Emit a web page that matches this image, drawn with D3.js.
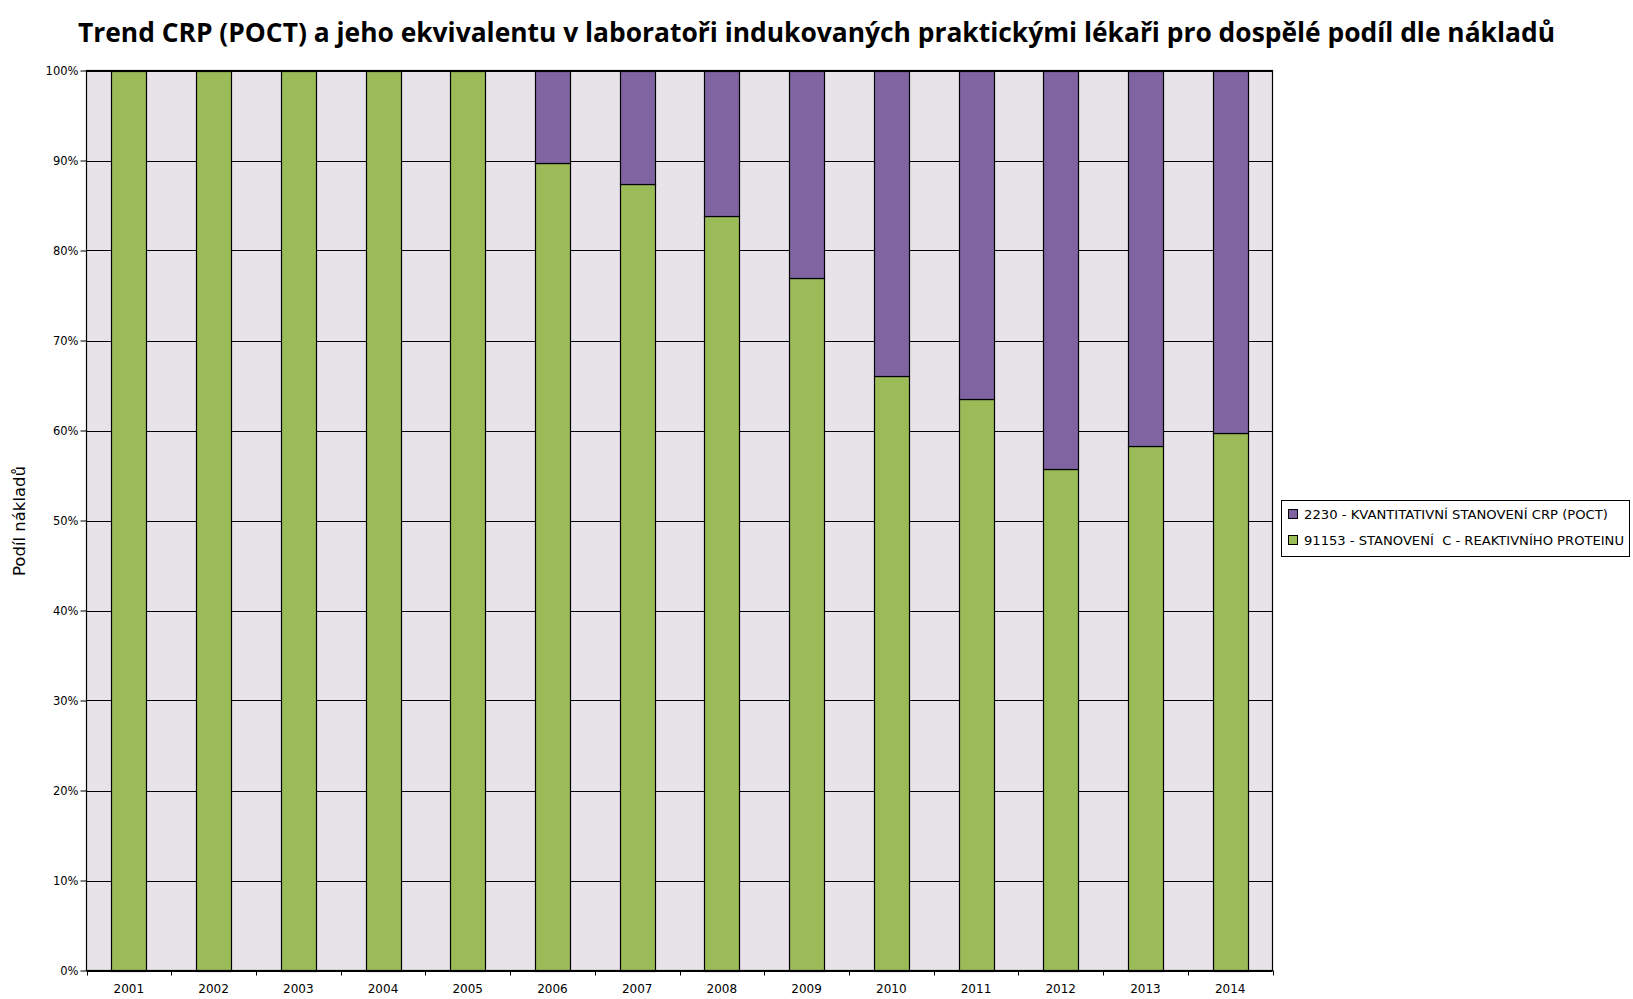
<!DOCTYPE html>
<html><head><meta charset="utf-8">
<script src="https://cdn.jsdelivr.net/npm/d3@7"></script>
<style>body{margin:0;background:#fff}svg{display:block}</style>
</head><body>
<svg id="c" width="1633" height="999"></svg>
<script>
const title = "Trend CRP (POCT) a jeho ekvivalentu v laboratoři indukovaných praktickými lékaři pro dospělé podíl dle nákladů";
const yTitle = "Podíl nákladů";
const years = ["2001","2002","2003","2004","2005","2006","2007","2008","2009","2010","2011","2012","2013","2014"];
const seriesNames = ["91153 - STANOVENÍ  C - REAKTIVNÍHO PROTEINU", "2230 - KVANTITATIVNÍ STANOVENÍ CRP (POCT)"];
const labShare = [100,100,100,100,100,89.7,87.4,83.8,77.0,66.1,63.5,55.7,58.3,59.7];
const poctShare = [0,0,0,0,0,10.3,12.6,16.2,23.0,33.9,36.5,44.3,41.7,40.3];
const yTicks = [0,10,20,30,40,50,60,70,80,90,100];
const colors = ["#9BBB59","#8064A2"];

const svg = d3.select("#c");
const m = {l:86.5, t:70.5, r:1272.5, b:970.5};
const x = d3.scaleBand().domain(years).range([m.l, m.r]).paddingInner(0.59).paddingOuter(0.295);
const xb = d3.scaleBand().domain(years).range([m.l, m.r]);
const y = d3.scaleLinear().domain([0,100]).range([m.b, m.t]);

svg.append("rect").attr("x",m.l).attr("y",m.t).attr("width",m.r-m.l).attr("height",m.b-m.t).attr("fill","#E7E3E8");

// gridlines
svg.append("g").selectAll("line").data(yTicks).join("line")
  .attr("x1",m.l).attr("x2",m.r).attr("y1",d=>Math.round(y(d))+0.5).attr("y2",d=>Math.round(y(d))+0.5)
  .attr("stroke","#000").attr("stroke-width",1);

// stacked bars
const stackData = years.map((yr,i)=>({year:yr, lab:labShare[i], poct:poctShare[i]}));
const stack = d3.stack().keys(["lab","poct"])(stackData);
stack.forEach((s,si)=>{
  svg.append("g").selectAll("rect").data(s.filter(d=>d[1]-d[0]>0)).join("rect")
    .attr("x",d=>Math.round(x(d.data.year))+0.5)
    .attr("width",Math.round(x.bandwidth()))
    .attr("y",d=>Math.round(y(d[1]))+0.5)
    .attr("height",d=>Math.round(y(d[0]))-Math.round(y(d[1])))
    .attr("fill",colors[si]).attr("stroke","#000").attr("stroke-width",1.2);
});

// border
svg.append("rect").attr("x",m.l).attr("y",m.t).attr("width",m.r-m.l).attr("height",m.b-m.t).attr("fill","none").attr("stroke","#000").attr("stroke-width",1.2);

// y axis
const yAxis = d3.axisLeft(y).tickValues(yTicks).tickFormat(d=>d+"%").tickSize(6).tickPadding(2);
const ga = svg.append("g").attr("transform",`translate(${m.l},0)`).call(yAxis);
ga.select(".domain").remove();
ga.selectAll("line").attr("stroke","#000");
ga.selectAll("text").attr("font-family","DejaVu Sans").attr("font-size","11.5px").attr("fill","#000");

// x axis
const xAxis = d3.axisBottom(xb).tickSize(0).tickPadding(13.5);
const gx = svg.append("g").attr("transform",`translate(0,${m.b})`).call(xAxis);
gx.select(".domain").remove();
gx.selectAll("text").attr("font-family","DejaVu Sans").attr("font-size","12px").attr("fill","#000");
svg.append("g").selectAll("line").data(years.concat(["end"])).join("line")
  .attr("x1",(d,i)=>Math.round(m.l + i*xb.bandwidth())+0.5).attr("x2",(d,i)=>Math.round(m.l + i*xb.bandwidth())+0.5)
  .attr("y1",m.b).attr("y2",m.b+5).attr("stroke","#000");

// title
svg.append("text").attr("x",816.5).attr("y",42).attr("text-anchor","middle")
  .attr("font-family","Open Sans").attr("font-weight","bold").attr("font-size","26px")
  .attr("textLength",1477).attr("lengthAdjust","spacingAndGlyphs").text(title);

// y title
svg.append("text").attr("transform","translate(25,521) rotate(-90)").attr("text-anchor","middle")
  .attr("font-family","DejaVu Sans").attr("font-size","16.5px").text(yTitle);

// legend
const lg = svg.append("g");
lg.append("rect").attr("x",1281.5).attr("y",500.5).attr("width",348).attr("height",56).attr("fill","#fff").attr("stroke","#000");
const legendItems = [{name:seriesNames[1],color:colors[1],w:304},{name:seriesNames[0],color:colors[0],w:320}];
legendItems.forEach((it,i)=>{
  const cy = 514 + i*26;
  lg.append("rect").attr("x",1288.5).attr("y",cy-4.5).attr("width",9).attr("height",9).attr("fill",it.color).attr("stroke","#000");
  lg.append("text").attr("x",1304).attr("y",cy+4.5).attr("font-family","DejaVu Sans").attr("font-size","12.5px")
    .attr("textLength",it.w).attr("lengthAdjust","spacingAndGlyphs")
    .style("white-space","pre").text(it.name);
});
</script>
</body></html>
